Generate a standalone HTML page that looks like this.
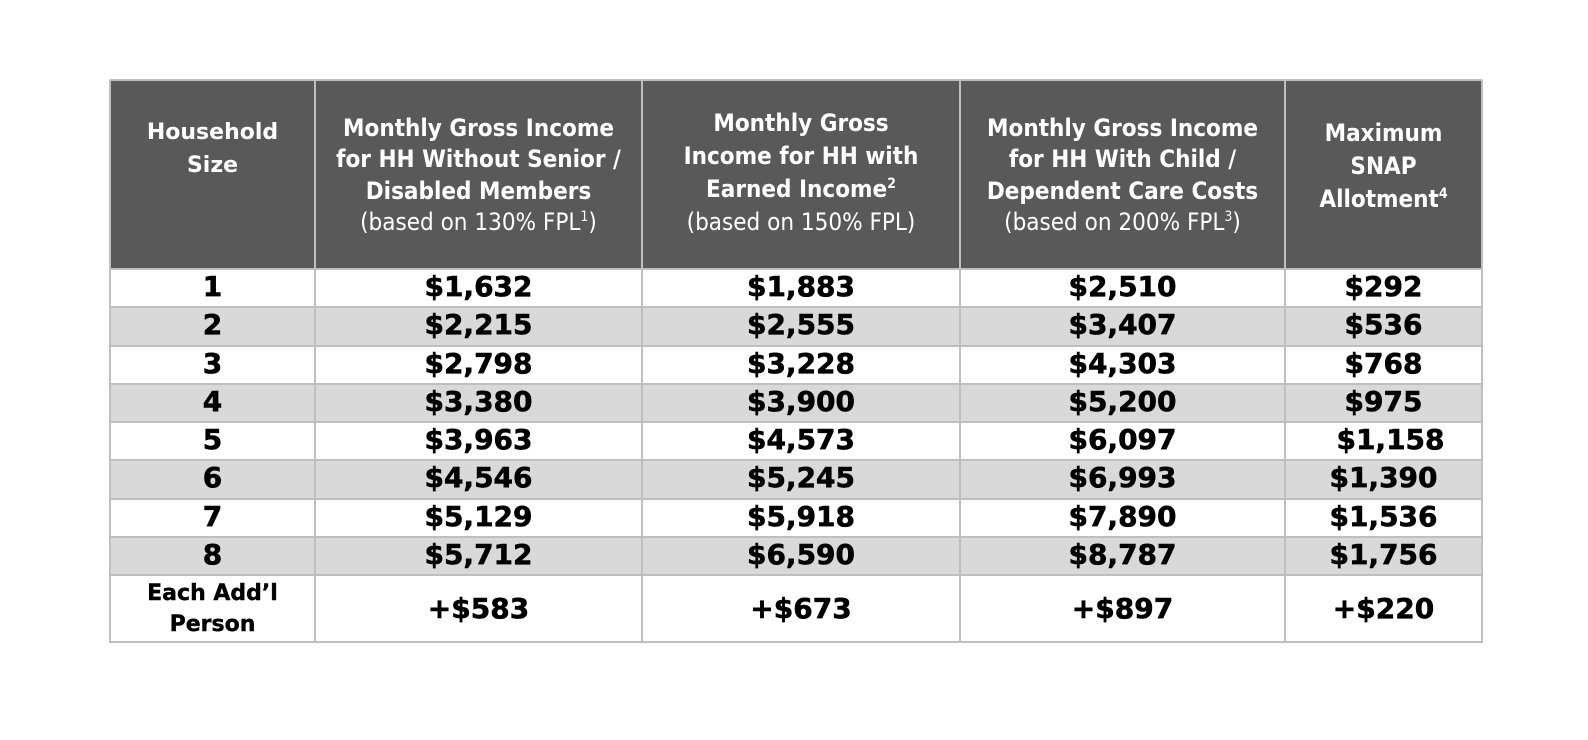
<!DOCTYPE html>
<html><head><meta charset="utf-8"><style>
html,body{margin:0;padding:0;background:#fff;width:1588px;height:740px;overflow:hidden;position:relative}
.c{position:absolute;display:flex;align-items:center;justify-content:center;text-align:center;box-sizing:border-box}
.h{background:#595959;color:#fff;font-family:"DejaVu Sans Condensed","DejaVu Sans",sans-serif;font-weight:bold;font-size:24px;line-height:31.5px}
.h .n{font-weight:normal}
.hs{font-family:"DejaVu Sans",sans-serif;font-size:22px;line-height:33px}
.d{font-family:"DejaVu Sans",sans-serif;font-weight:bold;font-size:28px;color:#000;line-height:30px;-webkit-text-stroke:0.6px #000}
.g{background:#d9d9d9}
.lbl{font-size:22px;line-height:31px;-webkit-text-stroke:0.4px #000}
sup{font-size:14px;line-height:0;vertical-align:9px}
.v{position:absolute;background:#bfbfbf;width:2px;top:80px;height:563px}
.hl{position:absolute;background:#bfbfbf;height:2px;left:110px;width:1372px}
</style></head><body>
<div class="c h hs" style="left:110px;top:80px;width:205px;height:189px;padding-bottom:52px">Household<br>Size</div>
<div class="c h" style="left:315px;top:80px;width:327px;height:189px;padding-top:2px"><div>Monthly Gross Income<br>for HH Without Senior /<br>Disabled Members<br><span class="n">(based on 130% FPL<sup>1</sup>)</span></div></div>
<div class="c h" style="left:642px;top:80px;width:318px;height:189px;padding-bottom:4px;line-height:33px"><div>Monthly Gross<br>Income for HH with<br>Earned Income<sup>2</sup><br><span class="n">(based on 150% FPL)</span></div></div>
<div class="c h" style="left:960px;top:80px;width:325px;height:189px;padding-top:2px"><div>Monthly Gross Income<br>for HH With Child /<br>Dependent Care Costs<br><span class="n">(based on 200% FPL<sup>3</sup>)</span></div></div>
<div class="c h" style="left:1285px;top:80px;width:197px;height:189px;padding-bottom:16px;line-height:33px"><div>Maximum<br>SNAP<br>Allotment<sup>4</sup></div></div>
<div id="rows"></div>
<script>
var data=[["1","$1,632","$1,883","$2,510","$292"],["2","$2,215","$2,555","$3,407","$536"],["3","$2,798","$3,228","$4,303","$768"],["4","$3,380","$3,900","$5,200","$975"],["5","$3,963","$4,573","$6,097","$1,158"],["6","$4,546","$5,245","$6,993","$1,390"],["7","$5,129","$5,918","$7,890","$1,536"],["8","$5,712","$6,590","$8,787","$1,756"]];
var xs=[110,315,642,960,1285,1482];
var h="";
for(var r=0;r<8;r++){var y=269+r*38.25;
 if(r%2==1)h+='<div class="g" style="position:absolute;left:110px;top:'+y+'px;width:1372px;height:38.25px"></div>';
 for(var c=0;c<5;c++){var pl=(r==4&&c==4)?'padding-left:14px;':'';
  h+='<div class="c d" style="'+pl+'left:'+xs[c]+'px;top:'+(y-1)+'px;width:'+(xs[c+1]-xs[c])+'px;height:38px">'+data[r][c]+'</div>';}}
var last=["Each Add’l<br>Person","+$583","+$673","+$897","+$220"];
for(var c=0;c<5;c++){h+='<div class="c d'+(c==0?' lbl':'')+'" style="left:'+xs[c]+'px;top:576px;width:'+(xs[c+1]-xs[c])+'px;height:66px">'+last[c]+'</div>';}
for(var c=0;c<6;c++)h+='<div class="v" style="left:'+(xs[c]-1)+'px"></div>';
h+='<div class="hl" style="top:79px"></div>';
for(var r=0;r<=8;r++)h+='<div class="hl" style="top:'+(268+r*38.25)+'px"></div>';
h+='<div class="hl" style="top:641px"></div>';
document.getElementById("rows").innerHTML=h;
</script>
</body></html>
